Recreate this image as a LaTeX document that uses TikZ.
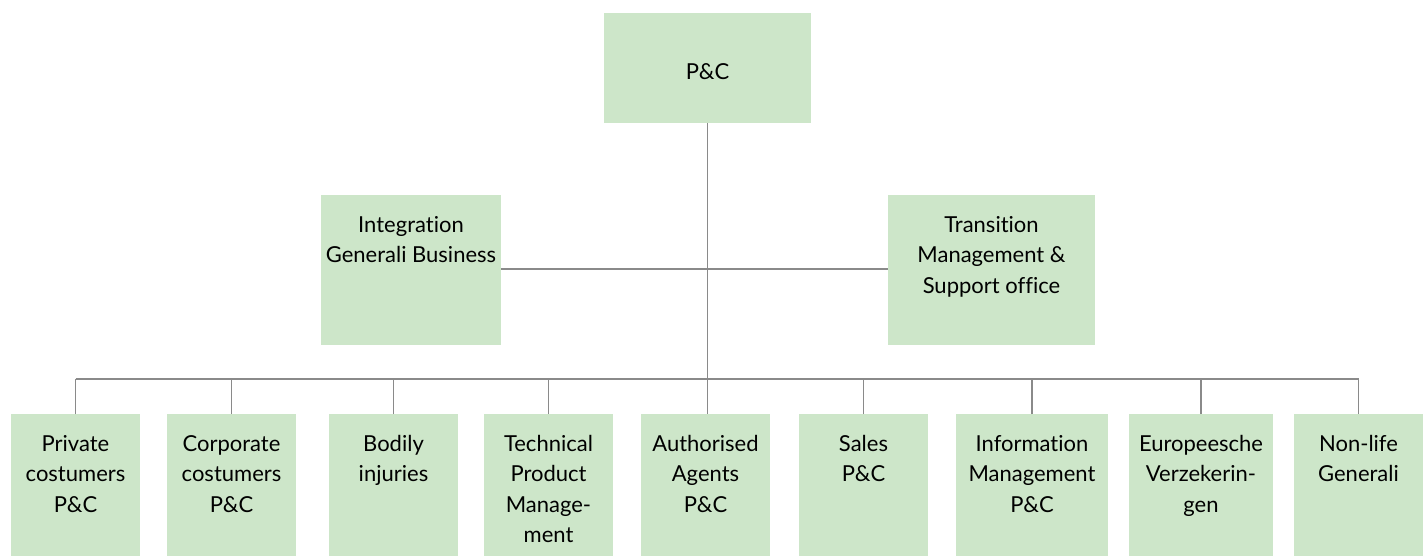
\documentclass[tikz,border=0pt]{standalone}
\usepackage{fontspec}
\setmainfont{Lato}[Ligatures=NoCommon]
\definecolor{boxgreen}{HTML}{CDE6C9}
\definecolor{linegray}{HTML}{8A8A8A}
\begin{document}
\begin{tikzpicture}[x=1pt,y=-1pt,
  box/.style={rectangle, fill=boxgreen, draw=none, inner sep=0pt},
  lbl/.style={anchor=north, align=center, inner sep=0pt, font=\fontsize{22}{30.5}\selectfont, text=black},
  conn/.style={draw=linegray, line width=1.3pt}]
\useasboundingbox (0,0) rectangle (1427,556);
\clip (0,0) rectangle (1427,556);
% top
\node[box, minimum width=207pt, minimum height=110pt] (top) at (707.5,68) {};
\node[anchor=center, inner sep=0pt, font=\fontsize{22}{30.5}\selectfont] (toptxt) at (707.5,71.5) {P\&C};
% middle
\node[box, minimum width=180pt, minimum height=150pt] (integ) at (411,270) {};
\node[lbl] (integtxt) at ([yshift=-21pt]integ.north) {Integration\\Generali Business};
\node[box, minimum width=207pt, minimum height=150pt] (trans) at (991.5,270) {};
\node[lbl] (transtxt) at ([yshift=-21pt]trans.north) {Transition\\Management \&\\Support office};
% bottom
\foreach \n/\cx/\w/\t in {
  b1/75.5/129/{Private\\costumers\\P\&C},
  b2/231.5/129/{Corporate\\costumers\\P\&C},
  b3/393.5/129/{Bodily\\injuries},
  b4/548.5/129/{Technical\\Product\\Manage-\\ment},
  b5/705.5/129/{Authorised\\Agents\\P\&C},
  b6/863.5/129/{Sales\\P\&C},
  b7/1032/152/{Information\\Management\\P\&C},
  b8/1201/144/{Europeesche\\Verzekerin-\\gen},
  b9/1358.5/129/{Non-life\\Generali}}{
  \node[box, minimum width=\w pt, minimum height=160pt, anchor=north] (\n) at (\cx,414) {};
  \node[lbl] (\n txt) at ([yshift=-21pt]\n.north) {\t};
}
\coordinate (bus) at (708,379);
\draw[conn] (top.south) -- (top.south |- b5.north);
\draw[conn] (integ.east |- 0,269) -- (trans.west |- 0,269);
\draw[conn] (b1.north |- bus) -- (b9.north |- bus);
\foreach \n in {b1,b2,b3,b4,b6,b7,b8,b9}{
  \draw[conn] (\n.north) -- (\n.north |- bus);
}
\end{tikzpicture}
\end{document}
